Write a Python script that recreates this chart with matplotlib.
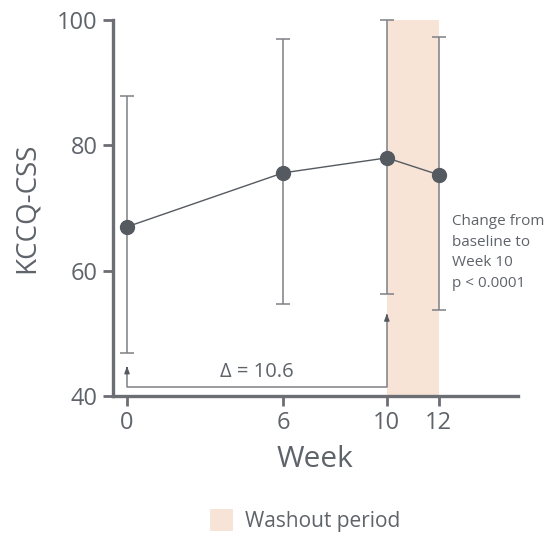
import matplotlib
matplotlib.use("Agg")
import matplotlib.pyplot as plt
from matplotlib.patches import Patch

plt.rcParams['font.family'] = ['Open Sans', 'DejaVu Sans']

weeks = [0, 6, 10, 12]
mean_score = [67.0, 75.6, 78.0, 75.3]
upper = [87.9, 96.9, 100.0, 97.3]
lower = [46.9, 54.7, 56.3, 53.7]
washout = (10, 12)
delta_label = "Δ = 10.6"
note = "Change from\nbaseline to\nWeek 10\np < 0.0001"

TXT = "#5f636a"
AX = "#6b6e73"
ERR = "#7d8085"
MARK = "#555a61"
WASH = "#f7e4d7"

fig = plt.figure(figsize=(5.52, 5.33), dpi=100)
ax = fig.add_axes([0.2047, 0.257, 0.7333, 0.7055])
ax.set_xlim(-0.54, 15.04)
ax.set_ylim(40, 100)

ax.axvspan(washout[0], washout[1], ymin=0, ymax=1, color=WASH, lw=0, zorder=0)

yerr = [[m - l for m, l in zip(mean_score, lower)], [u - m for u, m in zip(upper, mean_score)]]
ax.errorbar(weeks, mean_score, yerr=yerr, fmt='none', ecolor=ERR, elinewidth=1.1,
            capsize=4.7, capthick=1.1, zorder=2, clip_on=False)
ax.plot(weeks, mean_score, color=MARK, lw=1.0, marker='o', ms=10, mfc=MARK, mec=MARK,
        zorder=3, clip_on=False)

# bracket for change from baseline to week 10
ax.plot([0, 0, 10, 10], [44.4, 41.4, 41.4, 52.8], color=ERR, lw=1.1, zorder=2)
ax.annotate("", xy=(0, 45.2), xytext=(0, 44.0),
            arrowprops=dict(arrowstyle="-|>,head_length=0.4,head_width=0.15", color=MARK, lw=1.0))
ax.annotate("", xy=(10, 53.6), xytext=(10, 52.4),
            arrowprops=dict(arrowstyle="-|>,head_length=0.4,head_width=0.15", color=MARK, lw=1.0))
ax.text(5.0, 42.3, delta_label, ha='center', va='bottom', fontsize=14.5, color=TXT)

ax.text(12.5, 69.0, note, ha='left', va='top', fontsize=11, color=TXT, linespacing=1.5)

for s in ['top', 'right']:
    ax.spines[s].set_visible(False)
for s in ['left', 'bottom']:
    ax.spines[s].set_color(AX)
    ax.spines[s].set_linewidth(2.4)

ax.set_xticks(weeks)
ax.set_yticks([40, 60, 80, 100])
ax.tick_params(axis='both', colors=AX, width=2.0, length=7, labelsize=17, labelcolor=TXT, pad=4)
ax.set_xlabel("Week", fontsize=21.5, color=TXT, labelpad=7)
ax.set_ylabel("KCCQ-CSS", fontsize=20, color=TXT, labelpad=12)

fig.legend(handles=[Patch(facecolor=WASH, edgecolor='none', label="Washout period")],
           loc='center', bbox_to_anchor=(0.553, 0.024), frameon=False, fontsize=15,
           labelcolor=TXT, handlelength=1.1, handleheight=1.3, handletextpad=0.6)

fig.savefig("out.png", dpi=100)
